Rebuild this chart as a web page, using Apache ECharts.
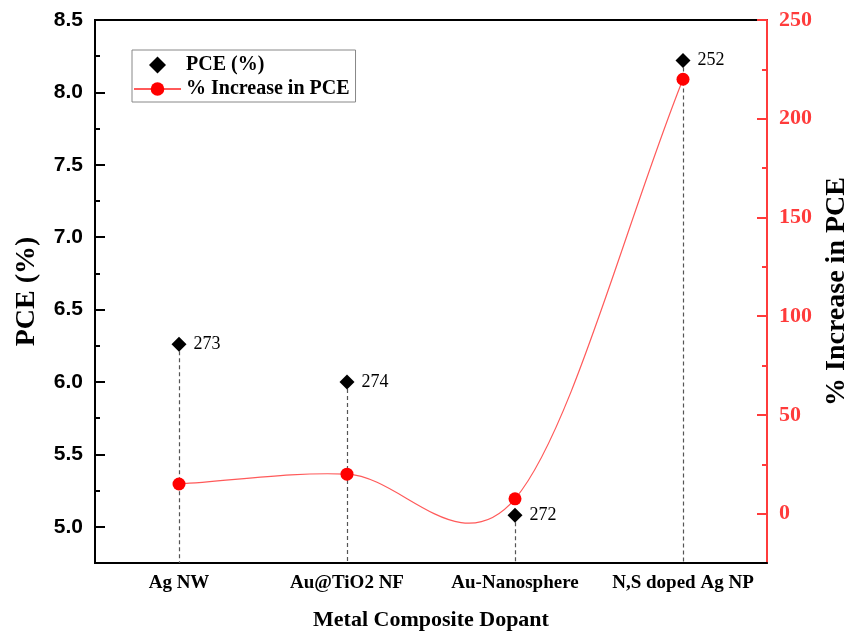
<!DOCTYPE html>
<html>
<head>
<meta charset="utf-8">
<script src="https://cdn.jsdelivr.net/npm/echarts@6/dist/echarts.min.js"></script>
<style>html,body{margin:0;padding:0;background:#fff}#c{width:846px;height:633px}</style>
</head>
<body>
<div id="c"></div>
<script>
const categories = ['Ag NW', 'Au@TiO2 NF', 'Au-Nanosphere', 'N,S doped Ag NP'];
const pceValues = [6.26, 6.0, 5.08, 8.22];
const increaseValues = [15, 20, 7.5, 220];
const refLabels = ['273', '274', '272', '252'];
const leftMajorTicks = [5.0, 5.5, 6.0, 6.5, 7.0, 7.5, 8.0, 8.5];
const leftMinorTicks = [5.25, 5.75, 6.25, 6.75, 7.25, 7.75, 8.25];
const rightMajorTicks = [0, 50, 100, 150, 200, 250];
const rightMinorTicks = [25, 75, 125, 175, 225];
const leftMin = 4.75, leftMax = 8.5;
const rightMin = -25, rightMax = 250;

const serif = '"Liberation Serif", "Times New Roman", serif';
const sans = '"Liberation Sans", Arial, sans-serif';
const red = '#ff3b3b';
const curveColor = '#ff5a5a';

// spline through the data points (cubic Hermite, central-difference tangents), drawn in pixel space
function renderSpline(params, api) {
  const i = params.dataIndex;
  const n = increaseValues.length;
  if (i >= n - 1) return null;
  const P = k => api.coord([k, increaseValues[k]]);
  const tangent = k => {
    if (k === 0) { const a = P(0), b = P(1); return [b[0] - a[0], b[1] - a[1]]; }
    if (k === n - 1) { const a = P(n - 2), b = P(n - 1); return [b[0] - a[0], b[1] - a[1]]; }
    const a = P(k - 1), b = P(k + 1); return [(b[0] - a[0]) / 2, (b[1] - a[1]) / 2];
  };
  const p0 = P(i), p1 = P(i + 1), t0 = tangent(i), t1 = tangent(i + 1);
  return {
    type: 'bezierCurve',
    shape: {
      x1: p0[0], y1: p0[1], x2: p1[0], y2: p1[1],
      cpx1: p0[0] + t0[0] / 3, cpy1: p0[1] + t0[1] / 3,
      cpx2: p1[0] - t1[0] / 3, cpy2: p1[1] - t1[1] / 3
    },
    style: { stroke: curveColor, lineWidth: 1.2, fill: null }
  };
}

const chart = echarts.init(document.getElementById('c'));
chart.setOption({
  animation: false,
  grid: { left: 95, right: 79, top: 20, bottom: 70, containLabel: false, outerBoundsMode: 'none', show: true, borderColor: '#000', borderWidth: 2, backgroundColor: 'transparent' },
  legend: {
    orient: 'vertical', left: 132, top: 50,
    padding: [5, 6, 3, 1], itemGap: 4, itemWidth: 47, itemHeight: 17,
    borderColor: '#888', borderWidth: 1,
    symbolKeepAspect: true,
    lineStyle: { opacity: 1 },
    textStyle: { fontFamily: serif, fontWeight: 'bold', fontSize: 20, color: '#000' },
    data: [
      { name: 'PCE (%)', icon: 'path://M0,-1L1,0L0,1L-1,0Z' },
      { name: '% Increase in PCE' }
    ]
  },
  xAxis: [
    {
      type: 'category', data: categories, position: 'bottom',
      name: 'Metal Composite Dopant', nameLocation: 'middle', nameGap: 46,
      nameTextStyle: { fontFamily: serif, fontWeight: 'bold', fontSize: 22, color: '#000' },
      axisLine: { onZero: false, lineStyle: { color: '#000', width: 2 } },
      axisTick: { inside: true, alignWithLabel: true, length: 10, lineStyle: { color: '#000', width: 2 } },
      axisLabel: { interval: 0, fontFamily: serif, fontWeight: 'bold', fontSize: 19, color: '#000', margin: 11 },
      splitLine: { show: false }
    },
    {
      type: 'category', data: categories, position: 'bottom',
      axisLine: { show: false, onZero: false },
      axisTick: { inside: true, length: 5, lineStyle: { color: '#000', width: 2 } },
      axisLabel: { show: false }, splitLine: { show: false }
    }
  ],
  yAxis: [
    {
      type: 'value', position: 'left', min: leftMin, max: leftMax,
      name: 'PCE (%)', nameLocation: 'middle', nameGap: 54, nameRotate: 90,
      nameTextStyle: { fontFamily: serif, fontWeight: 'bold', fontSize: 28, color: '#000' },
      axisLine: { show: true, onZero: false, lineStyle: { color: '#000', width: 2 } },
      axisTick: { show: true, inside: true, length: 10, customValues: leftMajorTicks, lineStyle: { color: '#000', width: 2 } },
      axisLabel: { customValues: leftMajorTicks, formatter: v => v.toFixed(1), fontFamily: sans, fontWeight: 'bold', fontSize: 21, color: '#000', margin: 12 },
      splitLine: { show: false }
    },
    {
      type: 'value', position: 'right', min: rightMin, max: rightMax,
      name: '% Increase in PCE', nameLocation: 'middle', nameGap: 53, nameRotate: 90,
      nameTextStyle: { fontFamily: serif, fontWeight: 'bold', fontSize: 28, color: '#000' },
      axisLine: { show: true, onZero: false, lineStyle: { color: red, width: 2 } },
      axisTick: { show: true, inside: true, length: 10, customValues: rightMajorTicks, lineStyle: { color: red, width: 2 } },
      axisLabel: { customValues: rightMajorTicks, fontFamily: serif, fontWeight: 'bold', fontSize: 22, color: red, margin: 12 },
      splitLine: { show: false }
    },
    {
      type: 'value', position: 'left', min: leftMin, max: leftMax,
      axisLine: { show: false, onZero: false },
      axisTick: { show: true, inside: true, length: 5, customValues: leftMinorTicks, lineStyle: { color: '#000', width: 2 } },
      axisLabel: { show: false }, splitLine: { show: false }
    },
    {
      type: 'value', position: 'right', min: rightMin, max: rightMax,
      axisLine: { show: false, onZero: false },
      axisTick: { show: true, inside: true, length: 5, customValues: rightMinorTicks, lineStyle: { color: red, width: 2 } },
      axisLabel: { show: false }, splitLine: { show: false }
    }
  ],
  series: [
    {
      name: 'PCE (%)', type: 'scatter', xAxisIndex: 0, yAxisIndex: 0,
      data: pceValues, symbol: 'diamond', symbolSize: 15, z: 5,
      itemStyle: { color: '#000', opacity: 1 },
      label: {
        show: true, position: 'right', distance: 7,
        formatter: p => refLabels[p.dataIndex],
        fontFamily: serif, fontSize: 18, color: '#000'
      },
      markLine: {
        silent: true, symbol: 'none', z: 1,
        label: { show: false },
        lineStyle: { color: '#555', type: [4, 3], width: 1.2 },
        data: pceValues.map((v, i) => [{ coord: [i, v] }, { coord: [i, leftMin] }])
      }
    },
    {
      name: '% Increase in PCE', type: 'line', xAxisIndex: 0, yAxisIndex: 1,
      data: increaseValues, symbol: 'circle', symbolSize: 13, z: 4,
      lineStyle: { color: curveColor, width: 1.2, opacity: 0 },
      itemStyle: { color: '#ff0000' }
    },
    {
      name: 'curve', type: 'custom', xAxisIndex: 0, yAxisIndex: 1, z: 3, silent: true,
      data: increaseValues.map((v, i) => [i, v]),
      renderItem: renderSpline
    }
  ]
});
</script>
</body>
</html>
